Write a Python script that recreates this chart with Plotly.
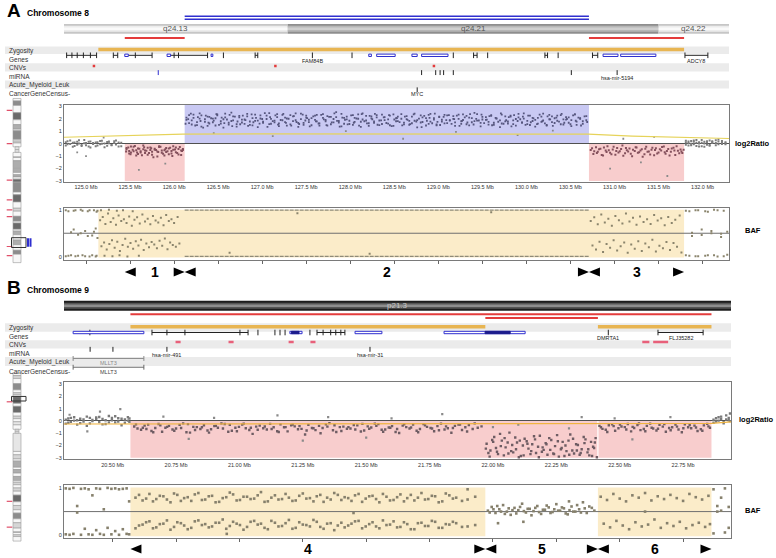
import plotly.graph_objects as go

W, H = 776, 558


def fx(p):
    # pixel column -> paper fraction
    return p / W


def fy(p):
    # pixel row -> paper fraction (paper y runs upwards)
    return 1 - p / H


# ------------------------------------------------------------------
# Panel A - chromosome 8 (positions in Mb)
# ------------------------------------------------------------------
A_VIEW = [124.75, 132.30]
A_TICKS = [125.0, 125.5, 126.0, 126.5, 127.0, 127.5, 128.0, 128.5, 129.0, 129.5,
           130.0, 130.5, 131.0, 131.5, 132.0]

A_BAND_NAME = ["q24.13", "q24.21", "q24.22"]
A_BAND_START = [121.5, 127.29, 131.50]
A_BAND_END = [127.29, 131.50, 135.4]
A_BAND_STAIN = ["gneg", "gpos50", "gneg"]

A_GAIN = [[126.12, 130.71]]
A_LOSS = [[125.44, 126.12], [130.71, 131.79]]
A_LOH = [[125.14, 131.79]]
A_REGIONS = [[125.44, 126.12], [126.12, 130.71], [130.71, 131.79]]
A_REGION_LABELS = ["1", "2", "3"]

A_GENE_LINES = [[124.78, 125.12], [125.31, 125.36], [125.48, 125.75], [125.96, 126.38],
                [126.92, 126.95], [129.40, 129.44], [130.21, 130.24], [130.75, 130.81],
                [131.80, 132.06]]
A_GENE_TICKS = [124.78, 124.84, 124.90, 124.97, 125.05, 125.12, 125.31, 125.36, 125.56,
                125.75, 126.00, 126.05, 126.38, 126.56, 126.92, 126.95, 127.57, 128.02,
                129.17, 129.40, 129.44, 129.56, 130.21, 130.24, 130.36, 130.75, 130.81,
                131.80, 132.06]
A_GENE_BOXES = [[125.44, 125.48], [125.92, 125.96], [126.42, 126.44], [128.21, 128.24],
                [128.30, 128.51], [128.70, 128.76], [128.81, 129.11], [130.87, 131.04],
                [131.07, 131.47]]
A_GENE_LABEL = ["FAM84B", "ADCY8"]
A_GENE_LABEL_X = [127.57, 131.93]
A_CNV = [125.09, 127.15, 128.95]
A_MIRNA = [128.81, 128.97, 129.02, 129.06, 129.17, 130.51, 131.03]
A_MIRNA_BLUE = [125.82]
A_MIRNA_LABEL = ["hsa-mir-5194"]
A_MIRNA_LABEL_X = [131.03]
A_CGC = ["MYC"]
A_CGC_X = [128.76]

A_TREND_X = [124.75, 125.20, 125.60, 126.10, 127.00, 128.50, 130.00, 130.70, 131.20, 131.80, 132.30]
A_TREND_Y = [0.52, 0.60, 0.68, 0.78, 0.80, 0.80, 0.79, 0.77, 0.62, 0.50, 0.42]

# log2 ratio probes
A_N1_X = [124.77, 124.79, 124.82, 124.85, 124.87, 124.90, 124.92, 124.95, 124.98, 125.00,
          125.03, 125.05, 125.08, 125.11, 125.13, 125.16, 125.18, 125.21, 125.24, 125.26,
          125.29, 125.32, 125.34, 125.37, 125.40]
A_N1_Y1 = [0.12, -0.05, 0.25, 0.08, -0.18, 0.15, 0.02, -0.10, 0.30, 0.05,
           -0.22, 0.18, -0.02, 0.10, -0.15, 0.22, 0.00, -0.28, 0.14, 0.04,
           -0.12, 0.20, -0.06, 0.09, -0.20]
A_N1_Y2 = [-0.14, 0.20, -0.02, -0.25, 0.10, -0.08, 0.28, -0.18, 0.04, -0.12,
           0.16, -0.30, 0.06, -0.20, 0.12, -0.04, 0.24, 0.02, -0.16, 0.18,
           -0.10, 0.05, 0.26, -0.22, 0.08]
A_N2_X = [131.81, 131.84, 131.87, 131.90, 131.93, 131.96, 131.99, 132.02, 132.05, 132.08,
          132.11, 132.15, 132.18, 132.22, 132.26]
A_N2_Y1 = [0.10, -0.15, 0.22, -0.05, 0.30, 0.02, -0.20, 0.15, -0.08, 0.25, 0.05, -0.12, 0.18, -0.02, 0.12]
A_N2_Y2 = [-0.08, 0.18, 0.00, 0.26, -0.18, 0.12, 0.08, -0.25, 0.20, -0.10, 0.14, 0.28, -0.05, 0.22, 0.04]
A_N2_Y3 = [0.24, 0.05, -0.12, 0.15, 0.08, -0.22, 0.30, 0.02, 0.12, -0.16, 0.20, 0.06, 0.34, 0.10, -0.04]

A_L1_X = [125.46, 125.49, 125.51, 125.54, 125.57, 125.59, 125.62, 125.65, 125.67, 125.70,
          125.73, 125.75, 125.78, 125.81, 125.83, 125.86, 125.89, 125.91, 125.94, 125.97,
          125.99, 126.02, 126.05, 126.08, 126.10]
A_L1_X2 = [125.455, 125.48, 125.505, 125.53, 125.555, 125.58, 125.605, 125.635, 125.66, 125.685,
           125.715, 125.74, 125.765, 125.795, 125.82, 125.845, 125.875, 125.90, 125.925, 125.955,
           125.98, 126.01, 126.035, 126.065, 126.09]
A_L1_Y1 = [-0.45, -0.78, -0.22, -0.60, -0.95, -0.38, -0.70, -0.15, -0.55, -0.88,
           -0.30, -0.64, -0.48, -1.02, -0.26, -0.72, -0.52, -0.35, -0.84, -0.58,
           -0.20, -0.68, -0.42, -0.90, -0.50]
A_L1_Y2 = [-0.62, -0.30, -0.85, -0.48, -0.18, -0.70, -0.40, -0.92, -0.28, -0.56,
           -0.75, -0.36, -1.08, -0.50, -0.66, -0.24, -0.80, -0.44, -0.60, -0.32,
           -0.98, -0.46, -0.74, -0.26, -0.58]
A_L1_Y3 = [-0.35, -0.58, -0.70, -0.25, -0.52, -0.82, -0.60, -0.45, -0.75, -0.33,
           -0.50, -0.88, -0.40, -0.62, -0.20, -0.55, -0.94, -0.66, -0.38, -0.78,
           -0.48, -0.30, -0.86, -0.54, -0.42]

A_G_X = [126.14, 126.17, 126.20, 126.22, 126.26, 126.29, 126.31, 126.35, 126.38, 126.40,
         126.44, 126.47, 126.49, 126.53, 126.56, 126.58, 126.62, 126.65, 126.67, 126.71,
         126.74, 126.77, 126.80, 126.83, 126.86, 126.89, 126.92, 126.95, 126.98, 127.01,
         127.05, 127.08, 127.10, 127.14, 127.17, 127.19, 127.23, 127.26, 127.28, 127.32,
         127.35, 127.38, 127.41, 127.44, 127.47, 127.50, 127.53, 127.56, 127.60, 127.62,
         127.65, 127.69, 127.72, 127.74, 127.78, 127.81, 127.84, 127.87, 127.90, 127.93,
         127.96, 127.99, 128.03, 128.05, 128.09, 128.12, 128.14, 128.18, 128.21, 128.24,
         128.27, 128.30, 128.33, 128.36, 128.39, 128.43, 128.45, 128.49, 128.52, 128.54,
         128.58, 128.61, 128.64, 128.67, 128.70, 128.73, 128.76, 128.80, 128.82, 128.86,
         128.89, 128.91, 128.95, 128.98, 129.01, 129.04, 129.07, 129.10, 129.13, 129.17,
         129.19, 129.23, 129.26, 129.28, 129.32, 129.35, 129.38, 129.41, 129.44, 129.48,
         129.50, 129.54, 129.57, 129.60, 129.63, 129.66, 129.70, 129.72, 129.76, 129.79,
         129.82, 129.85, 129.88, 129.91, 129.95, 129.97, 130.01, 130.04, 130.07, 130.10,
         130.13, 130.17, 130.19, 130.23, 130.26, 130.29, 130.32, 130.35, 130.39, 130.42,
         130.45, 130.48, 130.51, 130.55, 130.57, 130.61, 130.64, 130.68]
A_G_X2 = [126.13, 126.16, 126.19, 126.24, 126.27, 126.30, 126.33, 126.36, 126.39, 126.42,
          126.45, 126.48, 126.51, 126.54, 126.57, 126.60, 126.63, 126.66, 126.69, 126.72,
          126.75, 126.78, 126.81, 126.84, 126.88, 126.90, 126.93, 126.97, 127.00, 127.03,
          127.06, 127.09, 127.12, 127.15, 127.18, 127.21, 127.24, 127.27, 127.30, 127.33,
          127.36, 127.39, 127.42, 127.46, 127.49, 127.51, 127.54, 127.58, 127.61, 127.64,
          127.67, 127.70, 127.73, 127.76, 127.79, 127.82, 127.85, 127.88, 127.91, 127.94,
          127.97, 128.01, 128.04, 128.07, 128.10, 128.13, 128.16, 128.19, 128.22, 128.25,
          128.28, 128.31, 128.35, 128.38, 128.41, 128.44, 128.47, 128.50, 128.53, 128.56,
          128.59, 128.62, 128.65, 128.68, 128.72, 128.75, 128.78, 128.81, 128.84, 128.87,
          128.90, 128.93, 128.96, 128.99, 129.02, 129.06, 129.09, 129.12, 129.15, 129.18,
          129.21, 129.24, 129.27, 129.30, 129.33, 129.36, 129.40, 129.43, 129.46, 129.49,
          129.52, 129.55, 129.58, 129.61, 129.65, 129.68, 129.71, 129.74, 129.77, 129.80,
          129.83, 129.86, 129.90, 129.93, 129.96, 129.99, 130.02, 130.05, 130.08, 130.12,
          130.15, 130.18, 130.21, 130.24, 130.27, 130.30, 130.34, 130.37, 130.40, 130.43,
          130.46, 130.50, 130.53, 130.56, 130.59, 130.62, 130.66, 130.69]
A_G_Y1 = [1.92, 2.31, 1.55, 2.08, 1.74, 2.45, 1.38, 1.97, 2.19, 1.63,
          2.02, 1.47, 2.36, 1.81, 1.29, 2.12, 1.69, 2.51, 1.88, 1.58,
          2.24, 1.71, 1.95, 2.40, 1.52, 2.06, 1.84, 1.33, 2.28, 1.77,
          1.99, 2.47, 1.61, 1.86, 2.15, 1.42, 2.33, 1.74, 2.03, 1.56,
          2.21, 1.89, 1.36, 2.42, 1.68, 2.10, 1.93, 1.49, 2.27, 1.80,
          1.64, 2.38, 1.91, 1.45, 2.17, 1.72, 2.54, 1.83, 1.40, 2.09,
          1.96, 1.59, 2.30, 1.76, 2.01, 1.35, 2.44, 1.87, 1.65, 2.20,
          1.79, 2.13, 1.50, 2.35, 1.90, 1.62, 2.26, 1.44, 2.05, 1.82,
          2.39, 1.70, 1.98, 1.53, 2.18, 1.85, 1.31, 2.29, 1.75, 2.07,
          1.60, 2.41, 1.94, 1.48, 2.14, 1.78, 2.32, 1.66, 1.90, 2.23,
          1.43, 2.00, 1.81, 2.37, 1.57, 2.11, 1.73, 2.48, 1.86, 1.39,
          2.16, 1.92, 1.54, 2.25, 1.69, 2.04, 1.34, 2.34, 1.80, 1.63,
          2.19, 1.88, 1.46, 2.40, 1.71, 2.02, 1.58, 2.27, 1.83, 1.37,
          2.09, 1.76, 2.43, 1.51, 1.97, 2.21, 1.67, 1.85, 2.30, 1.55,
          1.94, 2.12, 1.41, 2.36, 1.78, 2.05, 1.60, 1.89]
A_G_Y2 = [1.61, 1.98, 2.42, 1.47, 2.15, 1.83, 1.30, 2.27, 1.70, 2.05,
          1.86, 2.39, 1.52, 2.10, 1.66, 1.95, 2.33, 1.41, 2.18, 1.79,
          1.57, 2.26, 1.90, 1.44, 2.37, 1.73, 2.08, 1.62, 1.99, 2.46,
          1.35, 2.14, 1.82, 2.29, 1.54, 1.91, 2.41, 1.68, 2.01, 1.46,
          2.23, 1.75, 1.59, 2.35, 1.87, 2.06, 1.39, 2.20, 1.80, 1.63,
          2.32, 1.96, 1.50, 2.17, 1.72, 2.44, 1.84, 1.37, 2.11, 1.93,
          1.56, 2.28, 1.69, 2.03, 1.45, 2.38, 1.81, 1.64, 2.24, 1.97,
          2.40, 1.53, 1.88, 2.13, 1.67, 2.30, 1.42, 1.95, 2.07, 1.74,
          1.48, 2.19, 1.92, 1.58, 2.36, 1.79, 2.02, 1.33, 2.25, 1.85,
          2.09, 1.65, 2.43, 1.76, 1.51, 2.16, 1.90, 2.31, 1.60, 1.98,
          2.27, 1.43, 1.84, 2.12, 1.71, 2.39, 1.55, 2.00, 1.87, 2.34,
          1.66, 1.94, 2.22, 1.49, 2.08, 1.77, 2.45, 1.61, 1.89, 2.14,
          1.40, 2.30, 1.83, 1.97, 2.18, 1.52, 2.26, 1.73, 2.04, 1.58,
          2.35, 1.81, 1.64, 2.21, 1.96, 1.44, 2.11, 1.78, 2.40, 1.69,
          1.99, 1.57, 2.28, 1.85, 2.10, 1.47, 2.20, 1.75]
A_G_Y3 = [2.10, 1.66, 1.88, 2.34, 1.50, 2.02, 2.29, 1.76, 1.44, 2.16,
          1.73, 2.05, 2.28, 1.62, 1.97, 2.43, 1.54, 1.83, 2.21, 1.37,
          2.12, 1.94, 1.60, 2.20, 1.79, 1.48, 2.35, 1.86, 2.03, 1.69,
          2.26, 1.58, 2.00, 1.72, 2.38, 1.63, 1.89, 2.11, 1.45, 2.30,
          1.82, 2.44, 1.67, 1.98, 1.53, 2.27, 1.74, 2.06, 1.92, 2.33,
          1.46, 2.08, 1.80, 2.22, 1.57, 1.99, 2.15, 1.70, 2.41, 1.61,
          2.19, 1.85, 1.52, 2.09, 2.36, 1.77, 1.95, 2.25, 1.43, 2.04,
          1.68, 2.31, 1.87, 1.59, 2.14, 1.96, 1.49, 2.37, 1.81, 2.18,
          2.01, 1.56, 2.23, 1.84, 1.65, 2.42, 1.90, 1.71, 2.13, 1.47,
          2.32, 1.78, 2.06, 1.55, 2.19, 1.93, 1.64, 2.28, 1.86, 2.00,
          1.72, 2.35, 1.60, 1.91, 2.24, 1.48, 2.07, 1.82, 2.39, 1.68,
          1.95, 2.15, 1.76, 2.30, 1.53, 2.02, 1.88, 1.63, 2.21, 1.79,
          2.26, 1.58, 1.99, 2.12, 1.70, 2.44, 1.84, 1.51, 2.09, 1.92,
          1.62, 2.18, 1.87, 1.45, 2.33, 1.74, 2.05, 2.27, 1.57, 1.96,
          2.14, 1.69, 1.90, 2.36, 1.52, 2.01, 1.81, 2.23]

A_L2_X = [130.73, 130.76, 130.79, 130.81, 130.84, 130.87, 130.90, 130.92, 130.95, 130.98,
          131.01, 131.03, 131.06, 131.09, 131.12, 131.14, 131.17, 131.20, 131.23, 131.25,
          131.28, 131.31, 131.34, 131.36, 131.39, 131.42, 131.45, 131.47, 131.50, 131.53,
          131.56, 131.58, 131.61, 131.64, 131.67, 131.69, 131.72, 131.75, 131.77]
A_L2_X2 = [130.745, 130.77, 130.80, 130.825, 130.855, 130.88, 130.91, 130.935, 130.965, 130.99,
           131.02, 131.045, 131.075, 131.10, 131.13, 131.155, 131.185, 131.21, 131.24, 131.265,
           131.295, 131.32, 131.35, 131.375, 131.405, 131.43, 131.46, 131.485, 131.515, 131.54,
           131.57, 131.595, 131.625, 131.65, 131.68, 131.705, 131.735, 131.76, 131.785]
A_L2_Y1 = [-0.50, -0.82, -0.28, -0.65, -0.40, -0.95, -0.55, -0.20, -0.72, -0.46,
           -0.88, -0.34, -0.60, -0.15, -0.76, -0.52, -0.38, -1.00, -0.58, -0.30,
           -0.68, -0.44, -0.84, -0.25, -0.62, -0.48, -0.92, -0.36, -0.70, -0.54,
           -0.22, -0.80, -0.42, -0.64, -0.32, -0.90, -0.56, -0.46, -0.74]
A_L2_Y2 = [-0.36, -0.60, -0.74, -0.45, -0.90, -0.30, -0.66, -0.52, -0.85, -0.24,
           -0.58, -0.70, -0.42, -0.96, -0.34, -0.62, -0.80, -0.48, -0.28, -0.72,
           -0.55, -1.05, -0.40, -0.64, -0.86, -0.32, -0.50, -0.78, -0.44, -0.26,
           -0.68, -0.58, -0.94, -0.38, -0.54, -0.20, -0.76, -0.62, -0.48]
A_OUT_X = [124.90, 125.00, 125.20, 125.60, 125.90, 126.45, 127.12, 127.95, 128.60, 129.20,
           129.90, 130.30, 130.95, 131.10, 131.30, 131.45, 131.60]
A_OUT_Y = [-0.70, -1.00, 0.50, -2.10, -1.60, 0.85, 0.62, 1.02, 0.40, 0.95,
           0.70, 1.05, -2.00, 0.40, -1.50, 0.55, -2.60]

# B-allele frequency probes
A_B0_X = [124.77, 124.80, 124.83, 124.86, 124.88, 124.91, 124.94, 124.96, 124.99, 125.02,
          125.04, 125.07, 125.09, 125.11, 125.12, 125.13]
A_B0_Y1 = [0.99, 0.02, 0.52, 0.98, 0.01, 0.47, 1.00, 0.03, 0.55, 0.97, 0.00, 0.45, 0.99, 0.60, 0.02, 0.98]
A_B0_Y2 = [0.01, 0.97, 0.03, 0.58, 0.99, 0.02, 0.50, 0.98, 0.01, 0.44, 0.99, 0.03, 0.53, 0.00, 0.96, 0.40]
A_B1_X = [125.16, 125.19, 125.22, 125.25, 125.28, 125.31, 125.34, 125.37, 125.40, 125.43,
          125.46, 125.49, 125.52, 125.55, 125.58, 125.61, 125.64, 125.67, 125.70, 125.73,
          125.76, 125.79, 125.82, 125.85, 125.88, 125.91, 125.94, 125.97, 126.00, 126.04]
A_B1_X2 = [125.175, 125.205, 125.235, 125.265, 125.295, 125.325, 125.355, 125.385, 125.415, 125.445,
           125.475, 125.505, 125.535, 125.565, 125.595, 125.625, 125.655, 125.685, 125.715, 125.745,
           125.775, 125.805, 125.835, 125.865, 125.895, 125.925, 125.955, 125.985, 126.02, 126.06]
A_B1_YU = [0.78, 0.85, 0.70, 0.92, 0.74, 0.82, 0.68, 0.88, 0.76, 0.80,
           0.72, 0.86, 0.66, 0.79, 0.84, 0.71, 0.90, 0.75, 0.81, 0.69,
           0.87, 0.77, 0.73, 0.83, 0.67, 0.89, 0.76, 0.80, 0.72, 0.85]
A_B1_YL = [0.22, 0.30, 0.15, 0.27, 0.35, 0.19, 0.32, 0.12, 0.25, 0.38,
           0.21, 0.29, 0.17, 0.33, 0.24, 0.36, 0.14, 0.28, 0.20, 0.31,
           0.26, 0.18, 0.34, 0.23, 0.39, 0.16, 0.30, 0.25, 0.21, 0.28]
A_B1E_X = [125.17, 125.21, 125.26, 125.30, 125.35, 125.38, 125.42, 125.47, 125.53, 125.60]
A_B1E_Y = [0.99, 0.02, 1.00, 0.01, 0.98, 0.03, 0.99, 0.00, 0.97, 0.02]
A_HOM = [[126.12, 130.71]]
A_B2_X = [126.63, 127.40, 128.22, 129.60]
A_B2_Y = [0.08, 0.93, 0.06, 0.95]
A_B3_X = [130.73, 130.77, 130.81, 130.85, 130.89, 130.93, 130.97, 131.01, 131.05, 131.09,
          131.13, 131.17, 131.21, 131.25, 131.29, 131.33, 131.37, 131.41, 131.45, 131.49,
          131.53, 131.57, 131.61, 131.65, 131.69, 131.74]
A_B3_X2 = [130.75, 130.79, 130.83, 130.87, 130.91, 130.95, 130.99, 131.03, 131.07, 131.11,
           131.15, 131.19, 131.23, 131.27, 131.31, 131.35, 131.39, 131.43, 131.47, 131.51,
           131.55, 131.59, 131.63, 131.67, 131.71, 131.76]
A_B3_YU = [0.76, 0.84, 0.69, 0.90, 0.73, 0.81, 0.66, 0.87, 0.78, 0.71,
           0.92, 0.75, 0.83, 0.68, 0.86, 0.74, 0.80, 0.70, 0.89, 0.77,
           0.82, 0.67, 0.85, 0.72, 0.79, 0.88]
A_B3_YL = [0.24, 0.15, 0.32, 0.10, 0.27, 0.19, 0.35, 0.13, 0.22, 0.30,
           0.08, 0.26, 0.17, 0.33, 0.12, 0.28, 0.20, 0.36, 0.11, 0.23,
           0.18, 0.31, 0.14, 0.29, 0.21, 0.09]
A_B4_X = [131.81, 131.85, 131.88, 131.92, 131.95, 131.99, 132.03, 132.06, 132.10, 132.13,
          132.17, 132.21, 132.24, 132.28]
A_B4_Y1 = [0.98, 0.02, 0.51, 0.99, 0.01, 0.46, 0.97, 0.03, 0.55, 1.00, 0.00, 0.49, 0.98, 0.04]
A_B4_Y2 = [0.03, 0.97, 0.44, 0.01, 0.99, 0.58, 0.02, 0.96, 0.50, 0.03, 0.99, 0.42, 0.01, 0.53]

# ------------------------------------------------------------------
# Panel B - chromosome 9 (positions in Mb)
# ------------------------------------------------------------------
B_VIEW = [20.308, 22.939]
B_TICKS = [20.50, 20.75, 21.00, 21.25, 21.50, 21.75, 22.00, 22.25, 22.50, 22.75]

B_BAND_NAME = ["p21.3"]
B_BAND_START = [19.9]
B_BAND_END = [25.6]
B_BAND_STAIN = ["gpos100"]

B_LOSS = [[20.57, 22.862]]
B_LOSS_SPLIT = [22.414]
B_DEEP = [[21.97, 22.414]]
B_LOH = [[20.57, 21.97], [22.414, 22.862]]
B_REGIONS = [[20.57, 21.97], [21.97, 22.414], [22.414, 22.862]]
B_REGION_LABELS = ["4", "5", "6"]

B_GENE_LINES = [[20.655, 21.034], [21.306, 21.416], [22.651, 22.829]]
B_GENE_TICKS = [20.410, 20.655, 20.714, 20.785, 21.002, 21.034, 21.073, 21.140, 21.160, 21.180,
                21.278, 21.306, 21.330, 21.360, 21.380, 21.400, 21.416, 22.455, 22.651, 22.829]
B_GENE_BOXES = [[20.344, 20.623], [21.199, 21.247], [21.456, 21.562], [21.807, 22.127]]
B_GENE_FILLED = [[21.205, 21.235], [21.969, 22.068]]
B_GENE_LABEL = ["DMRTA1", "FLJ35282"]
B_GENE_LABEL_X = [22.455, 22.742]
B_CNV = [[20.748, 20.768], [20.957, 20.977], [21.194, 21.214], [21.280, 21.300],
         [22.589, 22.617], [22.632, 22.691]]
B_MIRNA = [20.411, 20.501, 20.714, 21.515]
B_MIRNA_LABEL = ["hsa-mir-491", "hsa-mir-31"]
B_MIRNA_LABEL_X = [20.714, 21.515]
B_AML = [[20.344, 20.623]]
B_AML_LABEL = ["MLLT3"]
B_CGC = [[20.344, 20.623]]
B_CGC_LABEL = ["MLLT3"]

B_TREND_X = [20.308, 20.570, 20.600, 22.862, 22.939]
B_TREND_Y = [-0.25, -0.25, -0.20, -0.20, -0.08]

B_N1_X = [20.315, 20.325, 20.335, 20.348, 20.360, 20.372, 20.385, 20.398, 20.410, 20.420,
          20.435, 20.447, 20.460, 20.472, 20.485, 20.497, 20.510, 20.522, 20.535, 20.548,
          20.560, 20.566]
B_N1_Y1 = [0.10, -0.15, 0.25, 0.02, -0.30, 0.18, -0.05, 0.35, -0.20, 0.08,
           0.28, -0.10, 0.15, -0.25, 0.40, 0.05, -0.12, 0.22, -0.35, 0.12, 0.30, -0.08]
B_N1_Y2 = [-0.22, 0.20, -0.08, 0.30, 0.05, -0.18, 0.12, -0.40, 0.25, -0.02,
           0.15, 0.32, -0.28, 0.06, -0.12, 0.24, 0.38, -0.05, 0.18, -0.15, 0.02, 0.20]
B_L4_X = [20.585, 20.612, 20.640, 20.668, 20.695, 20.722, 20.750, 20.778, 20.805, 20.832,
          20.860, 20.888, 20.915, 20.942, 20.970, 20.998, 21.025, 21.052, 21.080, 21.108,
          21.135, 21.162, 21.190, 21.218, 21.245, 21.272, 21.300, 21.328, 21.355, 21.382,
          21.410, 21.438, 21.465, 21.492, 21.520, 21.548, 21.575, 21.602, 21.630, 21.658,
          21.685, 21.712, 21.740, 21.768, 21.795, 21.822, 21.850, 21.878, 21.905, 21.940]
B_L4_X2 = [20.598, 20.626, 20.653, 20.681, 20.708, 20.736, 20.764, 20.791, 20.818, 20.846,
           20.874, 20.901, 20.929, 20.956, 20.984, 21.011, 21.039, 21.066, 21.094, 21.121,
           21.149, 21.176, 21.204, 21.231, 21.259, 21.286, 21.314, 21.341, 21.369, 21.396,
           21.424, 21.451, 21.479, 21.506, 21.534, 21.561, 21.589, 21.616, 21.644, 21.671,
           21.699, 21.726, 21.754, 21.781, 21.809, 21.836, 21.864, 21.891, 21.920, 21.955]
B_L4_X3 = [20.592, 20.619, 20.633, 20.660, 20.688, 20.715, 20.743, 20.770, 20.797, 20.825,
           20.852, 20.880, 20.907, 20.935, 20.962, 20.990, 21.017, 21.045, 21.072, 21.100,
           21.127, 21.155, 21.182, 21.210, 21.237, 21.265, 21.292, 21.320, 21.347, 21.375,
           21.402, 21.430, 21.457, 21.485, 21.512, 21.540, 21.567, 21.595, 21.622, 21.650,
           21.677, 21.705, 21.732, 21.760, 21.787, 21.815, 21.842, 21.870, 21.898, 21.928]
B_L4_Y1 = [-0.45, -0.72, -0.30, -0.58, -0.88, -0.40, -0.62, -0.20, -0.95, -0.50,
           -0.35, -0.68, -0.55, -0.25, -0.80, -0.48, -0.60, -1.05, -0.38, -0.70,
           -0.52, -0.28, -0.85, -0.44, -0.65, -0.32, -0.75, -0.58, -0.18, -0.90,
           -0.46, -0.62, -0.36, -0.78, -0.54, -0.26, -0.70, -0.42, -0.98, -0.50,
           -0.30, -0.66, -0.48, -0.84, -0.22, -0.60, -0.40, -0.74, -0.34, -0.56]
B_L4_Y2 = [-0.62, -0.38, -0.82, -0.25, -0.55, -0.70, -0.32, -0.92, -0.48, -0.66,
           -0.78, -0.42, -0.20, -0.88, -0.56, -0.30, -0.74, -0.46, -0.60, -0.24,
           -0.84, -0.52, -0.36, -0.68, -1.10, -0.58, -0.40, -0.28, -0.76, -0.50,
           -0.64, -0.34, -0.86, -0.44, -0.22, -0.72, -0.54, -0.90, -0.38, -0.62,
           -0.80, -0.26, -0.58, -0.42, -0.70, -0.96, -0.30, -0.52, -0.66, -0.44]
B_L4_Y3 = [-0.28, -0.55, -0.66, -0.92, -0.36, -0.48, -0.80, -0.58, -0.26, -0.74,
           -0.52, -0.95, -0.40, -0.62, -0.32, -0.84, -0.22, -0.56, -0.72, -0.45,
           -0.66, -0.90, -0.50, -0.30, -0.42, -0.78, -0.60, -1.00, -0.46, -0.35,
           -0.82, -0.50, -0.70, -0.24, -0.64, -0.40, -0.88, -0.56, -0.66, -0.28,
           -0.54, -0.92, -0.36, -0.62, -0.76, -0.44, -0.58, -0.30, -0.86, -0.20]
B_L5_X = [21.975, 21.990, 22.005, 22.020, 22.035, 22.050, 22.065, 22.080, 22.095, 22.110,
          22.125, 22.140, 22.155, 22.170, 22.185, 22.200, 22.215, 22.230, 22.245, 22.260,
          22.275, 22.290, 22.305, 22.320, 22.335, 22.350, 22.365, 22.380, 22.395, 22.405]
B_L5_X2 = [21.982, 21.997, 22.012, 22.028, 22.043, 22.058, 22.072, 22.088, 22.102, 22.118,
           22.133, 22.148, 22.162, 22.178, 22.193, 22.208, 22.222, 22.238, 22.253, 22.268,
           22.282, 22.298, 22.313, 22.328, 22.342, 22.358, 22.373, 22.387, 22.399, 22.410]
B_L5_X3 = [21.972, 21.987, 22.001, 22.016, 22.031, 22.046, 22.061, 22.076, 22.091, 22.106,
           22.121, 22.136, 22.151, 22.166, 22.181, 22.196, 22.211, 22.226, 22.241, 22.256,
           22.271, 22.286, 22.301, 22.316, 22.331, 22.346, 22.361, 22.376, 22.391, 22.402]
B_L5_Y1 = [-1.85, -2.40, -1.30, -2.70, -1.60, -2.15, -0.95, -2.55, -1.75, -2.85,
           -1.45, -2.25, -1.90, -2.60, -1.20, -2.35, -2.75, -1.55, -2.05, -2.90,
           -1.70, -2.45, -1.10, -2.65, -1.95, -2.30, -1.50, -2.80, -2.10, -1.40]
B_L5_Y2 = [-2.60, -1.55, -2.20, -1.05, -2.80, -1.75, -2.45, -1.35, -2.95, -2.00,
           -1.65, -2.70, -1.25, -2.10, -2.50, -1.80, -1.40, -2.65, -1.15, -2.30,
           -2.85, -1.60, -2.40, -1.90, -2.75, -1.30, -2.55, -1.70, -2.20, -2.95]
B_L5_Y3 = [-2.25, -2.90, -1.70, -2.50, -2.05, -1.40, -2.65, -1.95, -2.30, -1.60,
           -2.80, -1.85, -2.45, -1.50, -2.95, -2.15, -1.90, -2.35, -2.70, -1.65,
           -2.20, -2.00, -2.75, -1.45, -2.40, -2.60, -1.80, -2.30, -2.85, -1.75]
B_L6_X = [22.420, 22.445, 22.470, 22.495, 22.520, 22.545, 22.570, 22.595, 22.620, 22.645,
          22.670, 22.695, 22.720, 22.745, 22.770, 22.795, 22.820, 22.850]
B_L6_X2 = [22.432, 22.457, 22.482, 22.507, 22.532, 22.557, 22.582, 22.607, 22.632, 22.657,
           22.682, 22.707, 22.732, 22.757, 22.782, 22.807, 22.832, 22.856]
B_L6_X3 = [22.426, 22.451, 22.476, 22.501, 22.526, 22.551, 22.576, 22.601, 22.626, 22.651,
           22.676, 22.701, 22.726, 22.751, 22.776, 22.801, 22.826, 22.845]
B_L6_Y1 = [-0.40, -0.72, -0.28, -0.60, -0.50, -0.85, -0.34, -0.66, -0.22, -0.78,
           -0.46, -0.58, -0.30, -0.92, -0.52, -0.38, -0.68, -0.44]
B_L6_Y2 = [-0.65, -0.35, -0.80, -0.45, -0.25, -0.58, -0.75, -0.40, -0.62, -0.32,
           -0.88, -0.52, -0.70, -0.28, -0.60, -0.82, -0.36, -0.55]
B_L6_Y3 = [-0.52, -0.90, -0.42, -0.30, -0.70, -0.48, -0.20, -0.84, -0.56, -0.64,
           -0.26, -0.76, -0.46, -0.60, -0.34, -0.54, -0.80, -0.24]
B_N2_X = [22.870, 22.880, 22.890, 22.900, 22.910, 22.920, 22.930, 22.935]
B_N2_Y1 = [0.10, -0.05, 0.30, 0.15, -0.10, 0.45, 0.05, 0.60]
B_N2_Y2 = [-0.15, 0.22, 0.02, 0.35, -0.20, 0.12, 0.25, -0.02]
B_OUT_X = [20.330, 20.400, 20.450, 20.530, 20.700, 20.800, 20.900, 21.150, 21.250, 21.350,
           21.500, 21.600, 21.800, 22.000, 22.100, 22.300, 22.350, 22.480, 22.550, 22.700]
B_OUT_Y = [0.50, -0.85, 0.75, 0.95, 0.35, -1.45, 0.25, 0.45, -1.60, 0.30,
           -1.35, 0.20, 0.55, -0.50, -0.30, -0.60, 0.30, 0.20, -1.50, 0.30]

B_B0_X = [20.315, 20.330, 20.345, 20.360, 20.375, 20.390, 20.405, 20.420, 20.435, 20.450,
          20.465, 20.480, 20.495, 20.510, 20.525, 20.540, 20.555, 20.565]
B_B0_Y1 = [1.00, 0.99, 1.01, 0.62, 0.99, 1.00, 0.98, 0.85, 1.00, 0.99, 0.55, 1.01, 0.99, 1.00, 0.98, 0.99, 1.00, 0.72]
B_B0_Y2 = [0.01, 0.00, 0.02, 0.48, 0.00, 0.13, 0.01, 0.00, 0.10, 0.02, 0.00, 0.15, 0.01, 0.08, 0.00, 0.12, 0.02, 0.01]
B_B4_X = [20.590, 20.618, 20.645, 20.672, 20.700, 20.728, 20.755, 20.782, 20.810, 20.838,
          20.865, 20.892, 20.920, 20.948, 20.975, 21.002, 21.030, 21.058, 21.085, 21.112,
          21.140, 21.168, 21.195, 21.222, 21.250, 21.278, 21.305, 21.332, 21.360, 21.388,
          21.415, 21.442, 21.470, 21.498, 21.525, 21.552, 21.580, 21.608, 21.635, 21.662,
          21.690, 21.718, 21.745, 21.772, 21.800, 21.828, 21.855, 21.900]
B_B4_X2 = [20.604, 20.632, 20.659, 20.686, 20.714, 20.742, 20.769, 20.796, 20.824, 20.852,
           20.879, 20.906, 20.934, 20.962, 20.989, 21.016, 21.044, 21.072, 21.099, 21.126,
           21.154, 21.182, 21.209, 21.236, 21.264, 21.292, 21.319, 21.346, 21.374, 21.402,
           21.429, 21.456, 21.484, 21.512, 21.539, 21.566, 21.594, 21.622, 21.649, 21.676,
           21.704, 21.732, 21.759, 21.786, 21.814, 21.842, 21.878, 21.930]
B_B4_YU1 = [0.80, 0.74, 0.88, 0.77, 0.83, 0.70, 0.86, 0.79, 0.73, 0.90,
            0.76, 0.84, 0.71, 0.81, 0.87, 0.75, 0.82, 0.78, 0.92, 0.72,
            0.85, 0.77, 0.80, 0.74, 0.89, 0.79, 0.83, 0.71, 0.76, 0.86,
            0.81, 0.73, 0.88, 0.78, 0.84, 0.70, 0.82, 0.75, 0.87, 0.79,
            0.74, 0.90, 0.77, 0.83, 0.72, 0.85, 0.80, 0.76]
B_B4_YU2 = [0.86, 0.78, 0.72, 0.84, 0.76, 0.89, 0.73, 0.81, 0.87, 0.75,
            0.83, 0.70, 0.79, 0.91, 0.74, 0.82, 0.77, 0.85, 0.71, 0.80,
            0.76, 0.88, 0.73, 0.84, 0.78, 0.72, 0.86, 0.80, 0.90, 0.75,
            0.79, 0.85, 0.71, 0.83, 0.77, 0.88, 0.74, 0.81, 0.72, 0.86,
            0.80, 0.76, 0.84, 0.70, 0.89, 0.78, 0.73, 0.82]
B_B4_YL1 = [0.20, 0.27, 0.14, 0.23, 0.31, 0.17, 0.25, 0.12, 0.29, 0.21,
            0.16, 0.26, 0.33, 0.19, 0.24, 0.11, 0.28, 0.22, 0.15, 0.30,
            0.18, 0.25, 0.13, 0.27, 0.21, 0.32, 0.17, 0.24, 0.10, 0.26,
            0.20, 0.29, 0.14, 0.23, 0.18, 0.31, 0.22, 0.16, 0.27, 0.12,
            0.25, 0.19, 0.30, 0.15, 0.23, 0.28, 0.17, 0.21]
B_B4_YL2 = [0.14, 0.22, 0.29, 0.16, 0.24, 0.11, 0.27, 0.20, 0.15, 0.31,
            0.23, 0.18, 0.26, 0.13, 0.28, 0.21, 0.17, 0.30, 0.24, 0.12,
            0.26, 0.19, 0.32, 0.15, 0.22, 0.18, 0.28, 0.13, 0.25, 0.20,
            0.16, 0.24, 0.30, 0.18, 0.27, 0.14, 0.21, 0.29, 0.17, 0.23,
            0.12, 0.26, 0.19, 0.28, 0.15, 0.22, 0.25, 0.18]
B_B5_X = [21.980, 21.995, 22.010, 22.025, 22.040, 22.055, 22.070, 22.085, 22.100, 22.115,
          22.130, 22.145, 22.160, 22.175, 22.190, 22.205, 22.220, 22.235, 22.250, 22.265,
          22.280, 22.295, 22.310, 22.325, 22.340, 22.355, 22.370, 22.390]
B_B5_X2 = [21.987, 22.002, 22.017, 22.032, 22.047, 22.062, 22.077, 22.092, 22.107, 22.122,
           22.137, 22.152, 22.167, 22.182, 22.197, 22.212, 22.227, 22.242, 22.257, 22.272,
           22.287, 22.302, 22.317, 22.332, 22.347, 22.362, 22.380, 22.400]
B_B5_Y1 = [0.52, 0.60, 0.47, 0.55, 0.64, 0.50, 0.43, 0.58, 0.53, 0.67,
           0.48, 0.56, 0.51, 0.62, 0.45, 0.54, 0.59, 0.49, 0.66, 0.52,
           0.57, 0.44, 0.61, 0.50, 0.55, 0.70, 0.47, 0.58]
B_B5_Y2 = [0.48, 0.55, 0.62, 0.50, 0.45, 0.57, 0.53, 0.46, 0.60, 0.51,
           0.56, 0.42, 0.58, 0.49, 0.54, 0.63, 0.47, 0.55, 0.52, 0.59,
           0.46, 0.53, 0.50, 0.64, 0.48, 0.57, 0.61, 0.52]
B_B6_X = [22.425, 22.450, 22.475, 22.500, 22.525, 22.550, 22.575, 22.600, 22.625, 22.650,
          22.675, 22.700, 22.725, 22.750, 22.775, 22.800, 22.825, 22.850]
B_B6_X2 = [22.437, 22.462, 22.487, 22.512, 22.537, 22.562, 22.587, 22.612, 22.637, 22.662,
           22.687, 22.712, 22.737, 22.762, 22.787, 22.812, 22.837, 22.856]
B_B6_YU = [0.82, 0.75, 0.88, 0.78, 0.72, 0.85, 0.80, 0.90, 0.74, 0.83,
           0.77, 0.86, 0.79, 0.73, 0.88, 0.81, 0.76, 0.84]
B_B6_YL = [0.24, 0.16, 0.30, 0.20, 0.12, 0.27, 0.18, 0.22, 0.33, 0.15,
           0.25, 0.19, 0.28, 0.14, 0.21, 0.26, 0.17, 0.23]
B_B7_X = [22.870, 22.885, 22.900, 22.915, 22.930]
B_B7_Y1 = [0.98, 0.62, 0.80, 1.00, 0.60]
B_B7_Y2 = [0.03, 0.50, 0.52, 0.05, 0.15]
B_BOUT_X = [20.950, 21.450, 21.900, 22.020, 22.120, 22.300, 22.600]
B_BOUT_Y = [0.02, 0.47, 0.98, 0.25, 0.28, 0.72, 0.50]

# ------------------------------------------------------------------
# Chromosome ideograms (hg19 bands, Mb)
# ------------------------------------------------------------------
CHR8_START = [0, 2.2, 6.2, 12.7, 19.0, 23.3, 27.4, 28.8, 36.5, 38.0, 39.7, 43.1, 45.6, 48.1,
              52.2, 52.6, 55.5, 61.6, 62.2, 66.0, 68.0, 70.0, 72.0, 74.6, 74.7, 83.5, 85.9,
              92.3, 97.9, 100.5, 105.1, 109.5, 111.1, 116.7, 118.3, 121.5, 126.3, 130.4,
              135.4, 138.9]
CHR8_LEN = 146.4
CHR8_STAIN = ["gneg", "gpos75", "gneg", "gpos100", "gneg", "gpos50", "gneg", "gpos75", "gneg",
              "gpos25", "gneg", "acen", "acen", "gneg", "gpos75", "gneg", "gpos50", "gneg",
              "gpos50", "gneg", "gpos50", "gneg", "gpos100", "gneg", "gpos75", "gneg",
              "gpos100", "gneg", "gpos25", "gneg", "gpos75", "gneg", "gpos100", "gneg",
              "gpos50", "gneg", "gpos50", "gneg", "gpos75", "gneg"]
CHR8_MARKS = [10.6, 40.2, 72.8, 90.5, 99.4, 105.3, 132.0, 140.2]
CHR8_GAIN_MARK = [128.4]

CHR9_START = [0, 2.2, 4.6, 9.0, 14.2, 16.6, 18.5, 19.9, 25.6, 28.0, 33.2, 36.3, 38.4, 41.0,
              43.6, 47.3, 49.0, 50.7, 65.9, 68.7, 72.2, 74.0, 79.2, 81.1, 84.1, 86.9, 90.4,
              91.8, 93.9, 96.6, 99.3, 102.6, 108.2, 111.3, 114.9, 117.7, 122.5, 125.8, 130.3,
              133.5, 134.0, 135.9, 137.4]
CHR9_LEN = 141.2
CHR9_STAIN = ["gneg", "gpos25", "gneg", "gpos75", "gneg", "gpos25", "gneg", "gpos100", "gneg",
              "gpos100", "gneg", "gpos25", "gneg", "gvar", "gneg", "acen", "acen", "gvar",
              "gneg", "gpos25", "gneg", "gpos50", "gneg", "gpos50", "gneg", "gpos50", "gneg",
              "gpos25", "gneg", "gpos25", "gneg", "gpos100", "gneg", "gpos25", "gneg",
              "gpos75", "gneg", "gpos25", "gneg", "gpos25", "gneg", "gpos25", "gneg"]
CHR9_MARKS = [24.2, 107.8, 129.5]

STAIN_COLOR = {"gneg": "#f7f7f7", "gpos25": "#d6d6d6", "gpos50": "#adadad", "gpos75": "#8c8c8c",
               "gpos100": "#6a6a6a", "acen": "#e2e2e2", "gvar": "#e6e6e6"}
# outer / middle / inner shade for the header band bars
STAIN_SHADES = {"gneg": ["#c6c6c6", "#ececec", "#fafafa"],
                "gpos50": ["#8e8e8e", "#b6b6b6", "#cfcfcf"],
                "gpos100": ["#1c1c1c", "#555555", "#8e8e8e"]}

# ------------------------------------------------------------------
FONT = "Liberation Sans, Arial, sans-serif"
GAIN_FILL = "#c9c9f3"
LOSS_FILL = "#f8cdcd"
LOH_FILL = "#fbecc9"
RED = "#e43c3c"
ORANGE = "#e8b552"
BLUE = "#2f2fcf"

fig = go.Figure()


def pts(x, y, xa, ya, color, size=2.0, symbol="square"):
    fig.add_trace(go.Scatter(x=x, y=y, mode="markers", xaxis=xa, yaxis=ya, hoverinfo="skip",
                             marker=dict(symbol=symbol, size=size, color=color, line=dict(width=0))))


def segs(pairs, y, xa, ya, color, width, dash=None):
    xs, ys = [], []
    for a, b in pairs:
        xs += [a, b, None]
        ys += [y, y, None]
    fig.add_trace(go.Scatter(x=xs, y=ys, mode="lines", xaxis=xa, yaxis=ya, hoverinfo="skip",
                             line=dict(color=color, width=width, dash=dash)))


def vticks(xs, y, xa, ya, color="#222222", size=4):
    fig.add_trace(go.Scatter(x=xs, y=[y] * len(xs), mode="markers", xaxis=xa, yaxis=ya,
                             hoverinfo="skip",
                             marker=dict(symbol="line-ns", size=size,
                                         line=dict(color=color, width=1))))


def label(x, y, text, xref, yref, size=6, color="#222222", bold=False, anchor="center"):
    fig.add_annotation(x=x, y=y, xref=xref, yref=yref, text=f"<b>{text}</b>" if bold else text,
                       showarrow=False, xanchor=anchor, yanchor="middle",
                       font=dict(family=FONT, size=size, color=color))


def rects(pairs, y0, y1, xref, yref, fill):
    for a, b in pairs:
        fig.add_shape(type="rect", xref=xref, yref=yref, x0=a, x1=b, y0=y0, y1=y1,
                      fillcolor=fill, line=dict(width=0), layer="below")


def header_bands(names, starts, ends, stains, view, row, xa, ya):
    for thick, k in [(10, 0), (6, 1), (2.5, 2)]:
        fig.add_trace(go.Bar(orientation="h", y=[row] * len(starts),
                             x=[e - s for s, e in zip(starts, ends)], base=starts,
                             width=thick, xaxis=xa, yaxis=ya, hoverinfo="skip",
                             marker=dict(color=[STAIN_SHADES[s][k] for s in stains],
                                         line=dict(width=0))))
    for n, s, e, st in zip(names, starts, ends, stains):
        c = (max(s, view[0]) + min(e, view[1])) / 2
        label(c, row, n, xa, ya, size=8,
              color="#c8c8c8" if st == "gpos100" else "#555555")


def arrows(regions, names, view, px_span, yc, xref, yref):
    w = 11 * (view[1] - view[0]) / px_span
    for (s, e), n in zip(regions, names):
        fig.add_shape(type="path", xref=xref, yref=yref, fillcolor="black", line=dict(width=0),
                      path=f"M {s},{yc} L {s + w},{yc - 4.5} L {s + w},{yc + 4.5} Z")
        fig.add_shape(type="path", xref=xref, yref=yref, fillcolor="black", line=dict(width=0),
                      path=f"M {e},{yc} L {e - w},{yc - 4.5} L {e - w},{yc + 4.5} Z")
        label((s + e) / 2, yc, n, xref, yref, size=14, color="black", bold=True)


def ideogram(starts, total, stains, ya, marks, view, x0=17):
    ends = starts[1:] + [total]
    fig.add_trace(go.Bar(x=[x0] * len(starts), y=[e - s for s, e in zip(starts, ends)],
                         base=starts, width=[4 if s == "acen" else 8 for s in stains],
                         xaxis="x5", yaxis=ya, hoverinfo="skip",
                         marker=dict(color=[STAIN_COLOR[s] for s in stains],
                                     line=dict(color="#9a9a9a", width=0.6))))
    fig.add_trace(go.Scatter(x=[9.5] * len(marks), y=marks, mode="markers", xaxis="x5",
                             yaxis=ya, hoverinfo="skip",
                             marker=dict(symbol="line-ew", size=4,
                                         line=dict(color="#e0506a", width=1.2))))
    fig.add_shape(type="rect", xref="x5", yref=ya, x0=11.5, x1=26, y0=view[0] - 0.6,
                  y1=view[1] + 0.6, line=dict(color="#333333", width=1), layer="above")


# ================= Panel A =================
rows_bg_A = [(45.7, 53.3), (62.7, 71.0), (80.0, 88.0)]
for a, b in rows_bg_A:
    fig.add_shape(type="rect", xref="paper", yref="paper", x0=fx(5), x1=fx(729),
                  y0=fy(b), y1=fy(a), fillcolor="#ebebeb", line=dict(width=0), layer="below")
for name, yy in [("Zygosity", 50.7), ("Genes", 59.3), ("CNVs", 67.0), ("miRNA", 76.0),
                 ("Acute_Myeloid_Leuk", 84.5), ("CancerGeneCensus-", 93.2)]:
    label(fx(7), fy(yy), name, "paper", "paper", size=6.5, color="#333333", anchor="left")

segs(A_GAIN, 15.4, "x", "y3", BLUE, 1.6)
segs(A_GAIN, 18.3, "x", "y3", BLUE, 1.6)
header_bands(A_BAND_NAME, A_BAND_START, A_BAND_END, A_BAND_STAIN, A_VIEW, 28, "x", "y3")
segs(A_LOSS, 37.3, "x", "y3", RED, 2)
segs(A_LOH, 48.8, "x", "y3", ORANGE, 3.5)
segs(A_GENE_LINES, 54.6, "x", "y3", "#222222", 1)
vticks(A_GENE_TICKS, 54.6, "x", "y3")
for a, b in A_GENE_BOXES:
    fig.add_shape(type="rect", xref="x", yref="y3", x0=a, x1=b, y0=53.4, y1=55.8,
                  fillcolor="white", line=dict(color=BLUE, width=1))
for t, xx in zip(A_GENE_LABEL, A_GENE_LABEL_X):
    label(xx, 60.3, t, "x", "y3", size=5.5)
pts(A_CNV, [65.3] * len(A_CNV), "x", "y3", RED, size=2.5)
vticks(A_MIRNA, 72.0, "x", "y3", size=3.5)
vticks(A_MIRNA_BLUE, 72.0, "x", "y3", color=BLUE, size=3.5)
for t, xx in zip(A_MIRNA_LABEL, A_MIRNA_LABEL_X):
    label(xx, 77.0, t, "x", "y3", size=5.5)
vticks(A_CGC_X, 89.3, "x", "y3", size=3.5)
for t, xx in zip(A_CGC, A_CGC_X):
    label(xx, 94.0, t, "x", "y3", size=5.5)

# log2 ratio panel
rects(A_GAIN, 0, 3.2, "x", "y", GAIN_FILL)
rects(A_LOSS, -3.0, 0, "x", "y", LOSS_FILL)
NORM_A = "#7c7c7c"
for yy in (A_N1_Y1, A_N1_Y2):
    pts(A_N1_X, yy, "x", "y", NORM_A)
for yy in (A_N2_Y1, A_N2_Y2, A_N2_Y3):
    pts(A_N2_X, yy, "x", "y", NORM_A)
pts(A_L1_X, A_L1_Y1, "x", "y", "#84505c")
pts(A_L1_X2, A_L1_Y2, "x", "y", "#84505c")
pts(A_L1_X, A_L1_Y3, "x", "y", "#84505c")
pts(A_G_X, A_G_Y1, "x", "y", "#56567e", size=1.8)
pts(A_G_X2, A_G_Y2, "x", "y", "#56567e", size=1.8)
pts(A_G_X, A_G_Y3, "x", "y", "#56567e", size=1.8)
pts(A_L2_X, A_L2_Y1, "x", "y", "#84505c")
pts(A_L2_X2, A_L2_Y2, "x", "y", "#84505c")
pts(A_OUT_X, A_OUT_Y, "x", "y", "#8a8a8a", size=1.8)
fig.add_trace(go.Scatter(x=A_TREND_X, y=A_TREND_Y, mode="lines", xaxis="x", yaxis="y",
                         hoverinfo="skip", line=dict(color="#e6d35a", width=1.2)))

# BAF panel
rects(A_LOH, -0.02, 1.0, "x2", "y2", LOH_FILL)
fig.add_trace(go.Scatter(x=A_VIEW, y=[0.5, 0.5], mode="lines", xaxis="x2", yaxis="y2",
                         hoverinfo="skip", line=dict(color="#6f6f6f", width=1)))
BAF_A = "#8a846c"
pts(A_B0_X, A_B0_Y1, "x2", "y2", BAF_A)
pts(A_B0_X, A_B0_Y2, "x2", "y2", BAF_A)
pts(A_B1_X, A_B1_YU, "x2", "y2", BAF_A)
pts(A_B1_X2, A_B1_YL, "x2", "y2", BAF_A)
pts(A_B1E_X, A_B1E_Y, "x2", "y2", BAF_A)
segs(A_HOM, 0.995, "x2", "y2", "#8e8a78", 1.3, dash="4px,1px")
segs(A_HOM, 0.005, "x2", "y2", "#8e8a78", 1.3, dash="4px,1px")
pts(A_B2_X, A_B2_Y, "x2", "y2", BAF_A)
pts(A_B3_X, A_B3_YU, "x2", "y2", BAF_A)
pts(A_B3_X2, A_B3_YL, "x2", "y2", BAF_A)
pts(A_B4_X, A_B4_Y1, "x2", "y2", BAF_A)
pts(A_B4_X, A_B4_Y2, "x2", "y2", BAF_A)

arrows(A_REGIONS, A_REGION_LABELS, A_VIEW, 729 - 64, 272.5, "x", "y3")

# ================= Panel B =================
rows_bg_B = [(324.0, 332.5), (341.0, 349.5), (358.0, 367.0)]
for a, b in rows_bg_B:
    fig.add_shape(type="rect", xref="paper", yref="paper", x0=fx(5), x1=fx(731),
                  y0=fy(b), y1=fy(a), fillcolor="#ebebeb", line=dict(width=0), layer="below")
for name, yy in [("Zygosity", 328.3), ("Genes", 337.0), ("CNVs", 345.7), ("miRNA", 354.3),
                 ("Acute_Myeloid_Leuk", 363.0), ("CancerGeneCensus-", 372.3)]:
    label(fx(7), fy(yy), name, "paper", "paper", size=6.5, color="#333333", anchor="left")

header_bands(B_BAND_NAME, B_BAND_START, B_BAND_END, B_BAND_STAIN, B_VIEW, 306.3, "x3", "y6")
segs(B_LOSS, 315.0, "x3", "y6", RED, 2)
segs(B_DEEP, 318.7, "x3", "y6", RED, 2)
segs(B_LOH, 327.6, "x3", "y6", ORANGE, 3.5)
segs(B_GENE_LINES, 333.3, "x3", "y6", "#222222", 1)
vticks(B_GENE_TICKS, 333.3, "x3", "y6")
for a, b in B_GENE_BOXES:
    fig.add_shape(type="rect", xref="x3", yref="y6", x0=a, x1=b, y0=332.1, y1=334.5,
                  fillcolor="white", line=dict(color=BLUE, width=1))
for a, b in B_GENE_FILLED:
    fig.add_shape(type="rect", xref="x3", yref="y6", x0=a, x1=b, y0=332.1, y1=334.5,
                  fillcolor="#1c1c8c", line=dict(color="#1c1c8c", width=1))
for t, xx in zip(B_GENE_LABEL, B_GENE_LABEL_X):
    label(xx, 338.6, t, "x3", "y6", size=5.5)
segs(B_CNV, 342.8, "x3", "y6", "#e8607a", 2.5)
vticks(B_MIRNA, 350.2, "x3", "y6", size=3.5)
for t, xx in zip(B_MIRNA_LABEL, B_MIRNA_LABEL_X):
    label(xx, 355.6, t, "x3", "y6", size=5.5)
segs(B_AML, 359.4, "x3", "y6", "#8a8a8a", 1)
vticks([v for p in B_AML for v in p], 359.4, "x3", "y6", color="#8a8a8a", size=3.5)
label(sum(B_AML[0]) / 2, 364.0, B_AML_LABEL[0], "x3", "y6", size=5.5, color="#8a8a8a")
segs(B_CGC, 368.2, "x3", "y6", "#666666", 1)
vticks([v for p in B_CGC for v in p], 368.2, "x3", "y6", color="#666666", size=3.5)
label(sum(B_CGC[0]) / 2, 373.0, B_CGC_LABEL[0], "x3", "y6", size=5.5, color="#444444")

# log2 ratio panel
rects(B_LOSS, -3.0, 0, "x3", "y4", LOSS_FILL)
for xs in B_LOSS_SPLIT:
    fig.add_shape(type="line", xref="x3", yref="y4", x0=xs, x1=xs, y0=-3.0, y1=0,
                  line=dict(color="white", width=1.2), layer="below")
PT_B = "#6e5c63"
NORM_B = "#7a7a7a"
pts(B_N1_X, B_N1_Y1, "x3", "y4", NORM_B, size=2.4)
pts(B_N1_X, B_N1_Y2, "x3", "y4", NORM_B, size=2.4)
pts(B_L4_X, B_L4_Y1, "x3", "y4", PT_B, size=2.4)
pts(B_L4_X2, B_L4_Y2, "x3", "y4", PT_B, size=2.4)
pts(B_L4_X3, B_L4_Y3, "x3", "y4", PT_B, size=2.4)
pts(B_L5_X, B_L5_Y1, "x3", "y4", PT_B, size=2.4)
pts(B_L5_X2, B_L5_Y2, "x3", "y4", PT_B, size=2.4)
pts(B_L5_X3, B_L5_Y3, "x3", "y4", PT_B, size=2.4)
pts(B_L6_X, B_L6_Y1, "x3", "y4", PT_B, size=2.4)
pts(B_L6_X2, B_L6_Y2, "x3", "y4", PT_B, size=2.4)
pts(B_L6_X3, B_L6_Y3, "x3", "y4", PT_B, size=2.4)
pts(B_N2_X, B_N2_Y1, "x3", "y4", NORM_B, size=2.4)
pts(B_N2_X, B_N2_Y2, "x3", "y4", NORM_B, size=2.4)
pts(B_OUT_X, B_OUT_Y, "x3", "y4", "#8a8a8a", size=2.2)
fig.add_trace(go.Scatter(x=B_TREND_X, y=B_TREND_Y, mode="lines", xaxis="x3", yaxis="y4",
                         hoverinfo="skip", line=dict(color="#f0b440", width=1.2)))

# BAF panel
rects(B_LOH, -0.03, 1.02, "x4", "y5", LOH_FILL)
fig.add_trace(go.Scatter(x=B_VIEW, y=[0.5, 0.5], mode="lines", xaxis="x4", yaxis="y5",
                         hoverinfo="skip", line=dict(color="#6f6f6f", width=1)))
BAF_B = "#86806c"
pts(B_B0_X, B_B0_Y1, "x4", "y5", BAF_B, size=2.6)
pts(B_B0_X, B_B0_Y2, "x4", "y5", BAF_B, size=2.6)
pts(B_B4_X, B_B4_YU1, "x4", "y5", BAF_B, size=2.6)
pts(B_B4_X2, B_B4_YU2, "x4", "y5", BAF_B, size=2.6)
pts(B_B4_X2, B_B4_YL1, "x4", "y5", BAF_B, size=2.6)
pts(B_B4_X, B_B4_YL2, "x4", "y5", BAF_B, size=2.6)
pts(B_B5_X, B_B5_Y1, "x4", "y5", BAF_B, size=2.6)
pts(B_B5_X2, B_B5_Y2, "x4", "y5", BAF_B, size=2.6)
pts(B_B6_X, B_B6_YU, "x4", "y5", BAF_B, size=2.6)
pts(B_B6_X2, B_B6_YL, "x4", "y5", BAF_B, size=2.6)
pts(B_B7_X, B_B7_Y1, "x4", "y5", BAF_B, size=2.6)
pts(B_B7_X, B_B7_Y2, "x4", "y5", BAF_B, size=2.6)
pts(B_BOUT_X, B_BOUT_Y, "x4", "y5", BAF_B, size=2.6)

arrows(B_REGIONS, B_REGION_LABELS, B_VIEW, 731 - 64, 551.0, "x3", "y6")

# ================= Ideograms =================
ideogram(CHR8_START, CHR8_LEN, CHR8_STAIN, "y7", CHR8_MARKS, A_VIEW)
fig.add_trace(go.Scatter(x=[28, 30.5], y=CHR8_GAIN_MARK * 2, mode="markers", xaxis="x5",
                         yaxis="y7", hoverinfo="skip",
                         marker=dict(symbol="line-ns", size=6, line=dict(color=BLUE, width=2))))
ideogram(CHR9_START, CHR9_LEN, CHR9_STAIN, "y8", CHR9_MARKS, B_VIEW)

# ================= Titles and side labels =================
label(fx(5), fy(9.5), "A", "paper", "paper", size=19, color="black", bold=True, anchor="left")
label(fx(25), fy(12), "Chromosome 8", "paper", "paper", size=8.5, color="black", bold=True,
      anchor="left")
label(fx(5), fy(288), "B", "paper", "paper", size=19, color="black", bold=True, anchor="left")
label(fx(25), fy(290.5), "Chromosome 9", "paper", "paper", size=8.5, color="black", bold=True,
      anchor="left")
label(fx(733), fy(143.5), "log2Ratio", "paper", "paper", size=7.5, color="black", bold=True,
      anchor="left")
label(fx(743), fy(231), "BAF", "paper", "paper", size=7.5, color="black", bold=True, anchor="left")
label(fx(737), fy(421), "log2Ratio", "paper", "paper", size=7.5, color="black", bold=True,
      anchor="left")
label(fx(743), fy(512.5), "BAF", "paper", "paper", size=7.5, color="black", bold=True,
      anchor="left")

# ================= Axes =================
tickfont = dict(family=FONT, size=5.5, color="#333333")
frame = dict(showline=True, mirror=True, linecolor="#7a7a7a", linewidth=1, showgrid=False,
             fixedrange=True)
hidden = dict(visible=False, fixedrange=True)
LOG_TICKS = [-3, -2, -1, 0, 1, 2, 3]

fig.update_layout(
    width=W, height=H, margin=dict(l=0, r=0, t=0, b=0),
    paper_bgcolor="white", plot_bgcolor="rgba(0,0,0,0)",
    showlegend=False, barmode="overlay", font=dict(family=FONT),
    # panel A
    xaxis=dict(domain=[fx(64), fx(729)], range=A_VIEW, anchor="y", tickvals=A_TICKS,
               ticktext=[f"{t:.1f} Mb" for t in A_TICKS], ticks="", tickfont=tickfont,
               zeroline=False, **frame),
    yaxis=dict(domain=[fy(181.7), fy(104.3)], range=[-3.06, 3.14], anchor="x",
               tickvals=LOG_TICKS, ticks="", tickfont=tickfont, zeroline=True,
               zerolinecolor="#505050", zerolinewidth=1, **frame),
    xaxis2=dict(domain=[fx(64), fx(729)], range=A_VIEW, anchor="y2", tickvals=A_TICKS,
                ticks="outside", ticklen=3, tickcolor="#666666", showticklabels=False,
                zeroline=False, **frame),
    yaxis2=dict(domain=[fy(260), fy(207.7)], range=[-0.064, 1.049], anchor="x2",
                tickvals=[0, 1], ticks="", tickfont=tickfont, zeroline=False, **frame),
    yaxis3=dict(domain=[fy(285), fy(0)], range=[285, 0], anchor="x", **hidden),
    # panel B
    xaxis3=dict(domain=[fx(64), fx(731)], range=B_VIEW, anchor="y4", tickvals=B_TICKS,
                ticktext=[f"{t:.2f} Mb" for t in B_TICKS], ticks="", tickfont=tickfont,
                zeroline=False, **frame),
    yaxis4=dict(domain=[fy(460.7), fy(383.3)], range=[-3.11, 3.14], anchor="x3",
                tickvals=LOG_TICKS, ticks="", tickfont=tickfont, zeroline=True,
                zerolinecolor="#505050", zerolinewidth=1, **frame),
    xaxis4=dict(domain=[fx(64), fx(731)], range=B_VIEW, anchor="y5", tickvals=B_TICKS,
                ticks="outside", ticklen=3, tickcolor="#666666", showticklabels=False,
                zeroline=False, **frame),
    yaxis5=dict(domain=[fy(540), fy(486.7)], range=[-0.071, 1.071], anchor="x4",
                tickvals=[0, 1], ticks="", tickfont=tickfont, zeroline=False, **frame),
    yaxis6=dict(domain=[fy(558), fy(285)], range=[558, 285], anchor="x3", **hidden),
    # ideograms
    xaxis5=dict(domain=[0, fx(40)], range=[0, 40], anchor="y7", **hidden),
    yaxis7=dict(domain=[fy(268), fy(95)], range=[150.8, -2.66], anchor="x5", **hidden),
    yaxis8=dict(domain=[fy(550), fy(370)], range=[147.05, -3.34], anchor="x5", **hidden),
)

# the page's default 8px body margin would push the 776x558 figure off the window
fig.write_html("out.html", config={"displayModeBar": False},
               post_script="document.body.style.margin = '0';")
